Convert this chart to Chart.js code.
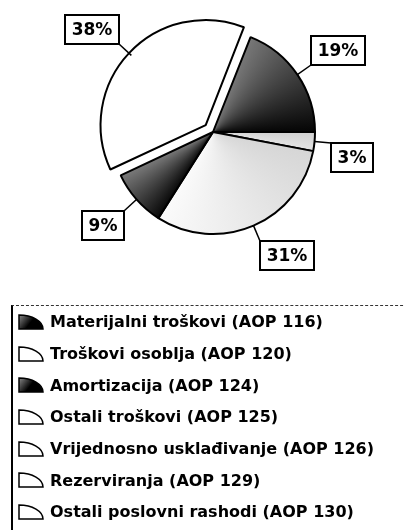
<!DOCTYPE html>
<html>
<head>
<meta charset="utf-8">
<script src="https://cdn.jsdelivr.net/npm/chart.js@4/dist/chart.umd.min.js"></script>
<style>
    body { margin: 0; width: 405px; height: 530px; overflow: hidden; position: relative; background: #fff; font-family: "DejaVu Sans", sans-serif; }
    #pie { position: absolute; left: 0; top: 0; }
    #legend { position: absolute; left: 11px; top: 305px; width: 420px; height: 240px; border-left: 2px solid #000; border-top: 1px dashed #333; }
    #legend ul { list-style: none; margin: 0; padding: 0; }
    #legend li { display: flex; align-items: center; height: 31.7px; }
    #legend canvas { margin-left: 4px; }
    #legend span { margin-left: 5px; font-weight: bold; font-size: 16px; color: #000; white-space: nowrap; }
</style>
</head>
<body>
<canvas id="pie" width="405" height="300"></canvas>
<div id="legend"><ul></ul></div>
<script>
// Cost structure (legend order)
const labels = [
    'Materijalni troškovi (AOP 116)',
    'Troškovi osoblja (AOP 120)',
    'Amortizacija (AOP 124)',
    'Ostali troškovi (AOP 125)',
    'Vrijednosno usklađivanje (AOP 126)',
    'Rezerviranja (AOP 129)',
    'Ostali poslovni rashodi (AOP 130)'
];
const shares = [19, 38, 9, 31, 3, 0, 0];
// scanned look: each slice fades from one shade to another
const fillFrom = ['#777777', '#ffffff', '#0a0a0a', '#d6d6d6', '#d0d0d0', '#ffffff', '#ffffff'];
const fillTo = ['#050505', '#ffffff', '#7a7a7a', '#fbfbfb', '#e4e4e4', '#ffffff', '#ffffff'];
const darkKey = [true, false, true, false, false, false, false];
const explode = [0, 40, 0, 0, 0, 0, 0];

// the original runs counter-clockwise, Chart.js runs clockwise -> reverse
const order = labels.map((_, i) => i).reverse();
const ROTATION = 90;

function sliceFill(context) {
    const chart = context.chart;
    const area = chart.chartArea;
    const k = order[context.dataIndex];
    if (!area) return fillFrom[k];
    const data = context.dataset.data;
    const total = data.reduce((a, b) => a + b, 0);
    let before = 0;
    for (let j = 0; j < context.dataIndex; j++) before += data[j];
    const start = (ROTATION - 90) * Math.PI / 180 + before / total * 2 * Math.PI;
    const frac = Math.max(data[context.dataIndex] / total, 0.001);
    const cx = (area.left + area.right) / 2, cy = (area.top + area.bottom) / 2;
    const g = chart.ctx.createConicGradient(start, cx, cy);
    g.addColorStop(0, fillFrom[k]);
    g.addColorStop(frac, fillTo[k]);
    g.addColorStop(1, fillTo[k]);
    return g;
}

// Percentage boxes with leader lines
const pctLabels = {
    id: 'pctLabels',
    afterDatasetsDraw(chart) {
        const ctx = chart.ctx;
        const meta = chart.getDatasetMeta(0);
        const values = chart.data.datasets[0].data;
        ctx.save();
        ctx.font = 'bold 17px "DejaVu Sans"';
        ctx.textAlign = 'center';
        ctx.textBaseline = 'middle';
        meta.data.forEach((arc, i) => {
            if (!values[i]) return;
            const p = arc.getProps(['x', 'y', 'startAngle', 'endAngle', 'outerRadius']);
            const mid = (p.startAngle + p.endAngle) / 2;
            const dx = Math.cos(mid), dy = Math.sin(mid);
            const shift = (arc.options.offset || 0) / 4;
            const ex = p.x + dx * (p.outerRadius + shift);
            const ey = p.y + dy * (p.outerRadius + shift);
            const text = values[i] + '%';
            const w = Math.round(ctx.measureText(text).width) + 13, h = 29;
            // nearest corner of the box sits a little way out along the slice direction
            const cx = Math.round(ex + dx * 17), cy = Math.round(ey + dy * 17);
            const bx = dx >= 0 ? cx : cx - w;
            const by = dy >= 0 ? cy : cy - h;

            ctx.strokeStyle = '#000';
            ctx.lineWidth = 1.5;
            ctx.beginPath();
            ctx.moveTo(ex, ey);
            ctx.lineTo(cx, cy);
            ctx.stroke();

            ctx.fillStyle = '#fff';
            ctx.fillRect(bx, by, w, h);
            ctx.lineWidth = 2;
            ctx.strokeRect(bx, by, w, h);
            ctx.fillStyle = '#000';
            ctx.fillText(text, bx + w / 2, by + h / 2 + 1);
        });
        ctx.restore();
    }
};

new Chart(document.getElementById('pie'), {
    type: 'pie',
    data: {
        labels: order.map(i => labels[i]),
        datasets: [{
            data: order.map(i => shares[i]),
            backgroundColor: sliceFill,
            offset: order.map(i => explode[i]),
            borderColor: '#000',
            borderWidth: 2
        }]
    },
    options: {
        responsive: false,
        animation: false,
        rotation: ROTATION,
        radius: 102,
        layout: { padding: { left: 21, bottom: 36 } },
        plugins: {
            legend: { display: false },
            tooltip: { enabled: false }
        }
    },
    plugins: [pctLabels]
});

// Legend with little pie-wedge markers
function wedgeIcon(dark) {
    const c = document.createElement('canvas');
    c.width = 28;
    c.height = 18;
    const g = c.getContext('2d');
    let fill = '#fff';
    if (dark) {
        fill = g.createLinearGradient(2, 2, 20, 16);
        fill.addColorStop(0, '#8a8a8a');
        fill.addColorStop(0.6, '#000');
        fill.addColorStop(1, '#000');
    }
    g.beginPath();
    g.moveTo(2, 16);
    g.lineTo(2, 2);
    g.ellipse(2, 16, 24, 14, 0, -Math.PI / 2, 0);
    g.closePath();
    g.fillStyle = fill;
    g.fill();
    g.strokeStyle = '#000';
    g.lineWidth = 1.5;
    g.stroke();
    return c;
}

const list = document.querySelector('#legend ul');
labels.forEach((name, i) => {
    const li = document.createElement('li');
    li.appendChild(wedgeIcon(darkKey[i]));
    const span = document.createElement('span');
    span.textContent = name;
    li.appendChild(span);
    list.appendChild(li);
});
</script>
</body>
</html>
